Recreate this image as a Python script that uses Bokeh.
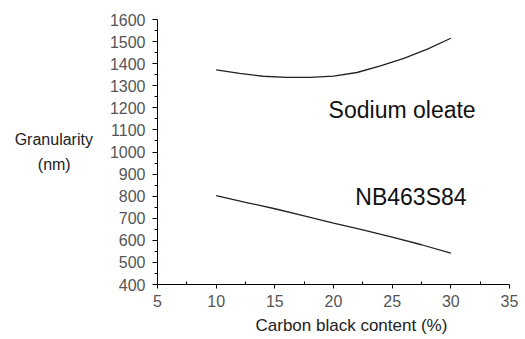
from bokeh.plotting import figure
from bokeh.models import Label, Range1d, FixedTicker, Title
from bokeh.embed import file_html
from bokeh.resources import INLINE

carbon = [10, 12, 14, 16, 18, 20, 22, 24, 26, 28, 30]
sodium_oleate = [1372, 1356, 1343, 1338, 1338, 1344, 1360, 1390, 1424, 1466, 1515]
carbon_nb = [10, 12.5, 15, 17.5, 20, 22.5, 25, 27.5, 30]
nb463s84 = [802, 772, 743, 711, 678, 647, 615, 580, 542]

x_ticks = [5, 10, 15, 20, 25, 30, 35]
y_ticks = list(range(400, 1700, 100))

FONT = "Liberation Sans"
NB = "\u00a0"

p = figure(width=521, height=339, output_backend="svg", toolbar_location=None,
           x_range=Range1d(5, 35), y_range=Range1d(400, 1600),
           min_border_left=157, min_border_right=12, min_border_top=19, min_border_bottom=55)
p.outline_line_color = None
p.grid.visible = False
p.background_fill_color = "white"

p.line(carbon, sodium_oleate, line_color="#222222", line_width=1.3)
p.line(carbon_nb, nb463s84, line_color="#222222", line_width=1.3)

xa = p.xaxis[0]
xa.ticker = FixedTicker(ticks=x_ticks, minor_ticks=[7.5, 12.5, 17.5, 22.5, 27.5, 32.5])
xa.major_tick_out = 4
xa.major_tick_in = 0
xa.minor_tick_in = 3
xa.minor_tick_out = 0
xa.major_label_text_font = FONT
xa.major_label_text_font_size = "16px"
xa.major_label_text_color = "#555555"
xa.major_label_standoff = 6
xa.axis_line_color = "black"

ya = p.yaxis[0]
ya.ticker = FixedTicker(ticks=y_ticks, minor_ticks=[v + 50 for v in y_ticks[:-1]])
ya.major_tick_out = 5
ya.major_tick_in = 0
ya.minor_tick_out = 3
ya.minor_tick_in = 0
ya.major_label_text_font = FONT
ya.major_label_text_font_size = "16px"
ya.major_label_text_color = "#555555"
ya.major_label_standoff = 7
ya.axis_line_color = "black"
ya.axis_label = "Granularity\n(nm)" + NB * 5
ya.axis_label_orientation = "horizontal"
ya.axis_label_text_font = FONT
ya.axis_label_text_font_size = "16px"
ya.axis_label_text_font_style = "normal"
ya.axis_label_text_color = "#222222"
ya.axis_label_text_line_height = 1.45
ya.axis_label_standoff = 14

p.add_layout(Title(text="Carbon black content (%)", align="left", offset=98,
                   text_font=FONT, text_font_size="17px", text_font_style="normal",
                   text_color="#222222", standoff=9), "below")

def lab(x, y, t, size, color="black"):
    p.add_layout(Label(x=x, y=y, text=t, text_font=FONT, text_font_size=size,
                       text_align="center", text_baseline="middle", text_color=color))

lab(25.85, 1189, "Sodium oleate", "23px", "#111111")
lab(26.6, 795, "NB463S84", "23px", "#111111")

open("out.html", "w").write(file_html(p, INLINE))
